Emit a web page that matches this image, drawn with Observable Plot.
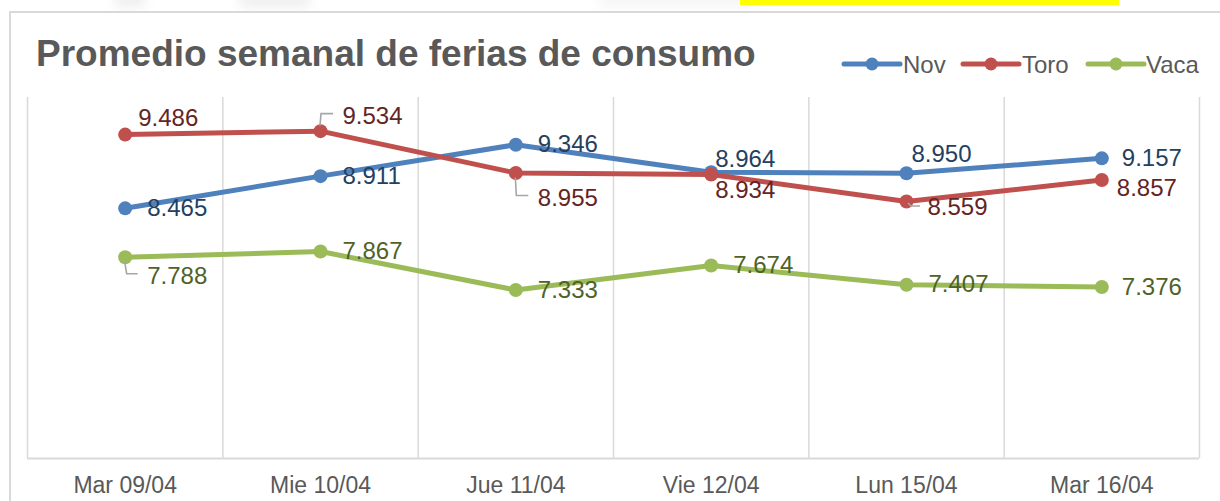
<!DOCTYPE html>
<html>
<head>
<meta charset="utf-8">
<script src="https://cdn.jsdelivr.net/npm/d3@7"></script>
<script src="https://cdn.jsdelivr.net/npm/@observablehq/plot@0.6"></script>
<style>
  html, body { margin: 0; padding: 0; background: #fff; }
  #wrap { position: relative; width: 1220px; height: 501px; overflow: hidden; font-family: "Liberation Sans", Arial, sans-serif; }
  #frame { position: absolute; left: 9px; top: 11px; width: 1300px; height: 600px; border: 2px solid #d9d9d9; box-sizing: border-box; background: #fff; }
  #title { position: absolute; left: 36px; top: 35px; font-size: 37px; line-height: 37px; font-weight: bold; color: #595959; white-space: nowrap; }
  #yellow { position: absolute; left: 740px; top: 0; width: 379px; height: 5px; background: #ffff00; }
  .blur { position: absolute; background: #c8c8c8; filter: blur(6px); opacity: 0.35; }
  #chart { position: absolute; left: 0; top: 0; }
  #legend { position: absolute; left: 0; top: 0; }
</style>
</head>
<body>
<div id="wrap">
  <div class="blur" style="left:115px;top:-6px;width:30px;height:12px"></div>
  <div class="blur" style="left:240px;top:-6px;width:70px;height:12px"></div>
  <div class="blur" style="left:600px;top:-6px;width:160px;height:12px;opacity:0.2"></div>
  <div id="yellow"></div>
  <div id="frame"></div>
  <div id="title">Promedio semanal de ferias de consumo</div>
  <div id="chart"></div>
  <svg id="legend" width="1220" height="100"></svg>
</div>
<script>
// ---- data ----
const categories = ["Mar 09/04", "Mie 10/04", "Jue 11/04", "Vie 12/04", "Lun 15/04", "Mar 16/04"];
const seriesNames = ["Nov", "Toro", "Vaca"];
const nov  = [8.465, 8.911, 9.346, 8.964, 8.950, 9.157];
const toro = [9.486, 9.534, 8.955, 8.934, 8.559, 8.857];
const vaca = [7.788, 7.867, 7.333, 7.674, 7.407, 7.376];

// ---- styles / layout ----
const lineColors  = {Nov: "#4f81bd", Toro: "#c0504d", Vaca: "#9bbb59"};
const labelColors = {Nov: "#243f60", Toro: "#632523", Vaca: "#4f6228"};
const labelOffsets = {
  Nov:  [[22, 0], [22, 0], [22, 0], [4, -13], [5, -19], [20, 0]],
  Toro: [[13, -16], [22, -15], [22, 25], [4, 16], [21, 6], [15, 8]],
  Vaca: [[22, 19], [22, 0], [22, 0], [22, 0], [22, 0], [20, 0]]
};
const leaders = [
  {series: "Toro", i: 1, pts: [[0, -5], [1, -17], [13, -17]]},
  {series: "Toro", i: 2, pts: [[0, 5], [1, 23], [13, 23]]},
  {series: "Toro", i: 4, pts: [[2, 2], [5, 5], [14, 5]]},
  {series: "Vaca", i: 0, pts: [[0, 5], [2, 17], [13, 17]]}
];

const valuesBySeries = {Nov: nov, Toro: toro, Vaca: vaca};
const rows = seriesNames.flatMap(s => valuesBySeries[s].map((v, i) => ({series: s, i, value: v})));

const marks = [];
marks.push(Plot.ruleX(d3.range(categories.length + 1).map(k => k - 0.5), {y1: 5, y2: 10, stroke: "#d9d9d9", strokeWidth: 1.5}));
marks.push(Plot.ruleY([5], {stroke: "#d9d9d9", strokeWidth: 2}));
marks.push(Plot.axisX({ticks: d3.range(categories.length), tickFormat: i => categories[i], tickSize: 0, tickPadding: 18, fontSize: 23, color: "#595959", label: null}));

for (const s of seriesNames) {
  const d = rows.filter(r => r.series === s);
  marks.push(Plot.line(d, {x: "i", y: "value", stroke: lineColors[s], strokeWidth: 5, strokeLinejoin: "round", strokeLinecap: "round"}));
  marks.push(Plot.dot(d, {x: "i", y: "value", r: 7, fill: lineColors[s], stroke: "none"}));
}

marks.push((index, scales, values, dimensions, context) => {
  const g = d3.create("svg:g").attr("fill", "none").attr("stroke", "#a6a6a6").attr("stroke-width", 1.6);
  for (const L of leaders) {
    const v = valuesBySeries[L.series][L.i];
    const px = scales.x(L.i), py = scales.y(v);
    g.append("polyline").attr("points", L.pts.map(([dx, dy]) => `${px + dx},${py + dy}`).join(" "));
  }
  return g.node();
});

for (const s of seriesNames) {
  rows.filter(r => r.series === s).forEach(r => {
    const [dx, dy] = labelOffsets[s][r.i];
    marks.push(Plot.text([r], {x: "i", y: "value", text: d => d.value.toFixed(3), dx, dy,
      textAnchor: "start", lineAnchor: "middle", fontSize: 24, fill: labelColors[s]}));
  });
}

const chart = Plot.plot({
  width: 1220,
  height: 501,
  marginLeft: 27,
  marginRight: 21,
  marginTop: 97,
  marginBottom: 43,
  style: {background: "transparent", fontFamily: "'Liberation Sans', Arial, sans-serif", overflow: "visible"},
  x: {type: "linear", domain: [-0.5, categories.length - 0.5], axis: null, label: null},
  y: {domain: [5, 10], axis: null, label: null},
  marks
});
document.getElementById("chart").appendChild(chart);

// ---- legend ----
const legendItems = [
  {name: "Nov",  x1: 844, x2: 900, tx: 903},
  {name: "Toro", x1: 963, x2: 1019, tx: 1022},
  {name: "Vaca", x1: 1088, x2: 1144, tx: 1146}
];
const leg = d3.select("#legend");
for (const it of legendItems) {
  leg.append("line").attr("x1", it.x1).attr("x2", it.x2).attr("y1", 64).attr("y2", 64)
    .attr("stroke", lineColors[it.name]).attr("stroke-width", 5).attr("stroke-linecap", "round");
  leg.append("circle").attr("cx", (it.x1 + it.x2) / 2).attr("cy", 64).attr("r", 6.5).attr("fill", lineColors[it.name]);
  leg.append("text").attr("x", it.tx).attr("y", 72.5).attr("font-size", 24)
    .attr("font-family", "'Liberation Sans', Arial, sans-serif").attr("fill", "#595959").text(it.name);
}
</script>
</body>
</html>
